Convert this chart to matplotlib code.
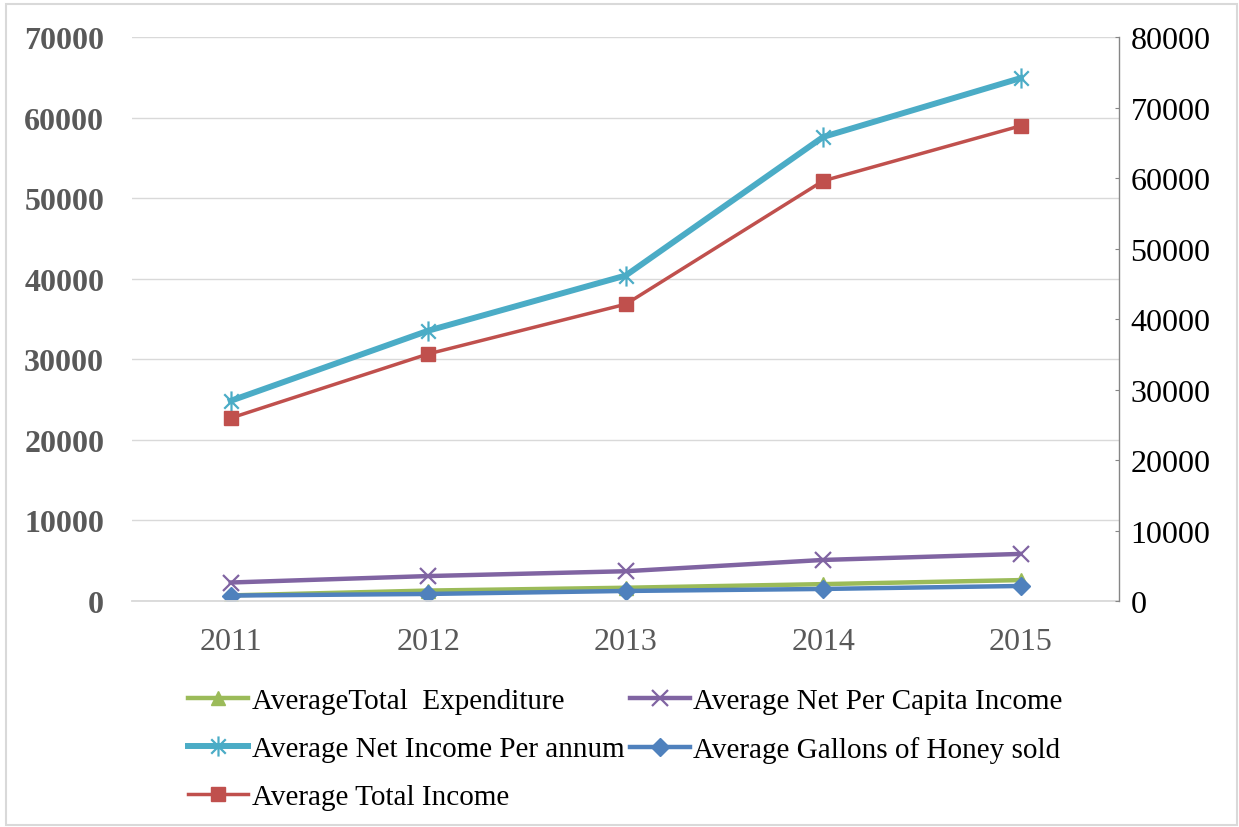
import numpy as np
import matplotlib
matplotlib.use("Agg")
import matplotlib.pyplot as plt
from matplotlib.path import Path
from matplotlib.patches import Rectangle

plt.rcParams["font.family"] = ["Liberation Serif", "DejaVu Serif"]

years = ["2011", "2012", "2013", "2014", "2015"]

# primary axis series
total_expenditure = [700, 1300, 1650, 2100, 2600]
net_per_capita = [2300, 3100, 3700, 5100, 5850]
net_income_annum = [24850, 33550, 40400, 57600, 64900]
gallons_sold = [680, 880, 1250, 1500, 1870]

# secondary axis series
total_income = [25950, 35050, 42100, 59600, 67400]

left_ticks = [0, 10000, 20000, 30000, 40000, 50000, 60000, 70000]
right_ticks = [0, 10000, 20000, 30000, 40000, 50000, 60000, 70000, 80000]

GREEN = "#9BBB59"
PURPLE = "#8064A2"
CYAN = "#4BACC6"
BLUE = "#4F81BD"
RED = "#C0504D"
GRID = "#D9D9D9"
LABEL_GRAY = "#595959"

# asterisk marker: vertical stroke plus an x
star_path = Path(
    [(0, -1), (0, 1), (-0.72, -0.72), (0.72, 0.72), (-0.72, 0.72), (0.72, -0.72)],
    [Path.MOVETO, Path.LINETO, Path.MOVETO, Path.LINETO, Path.MOVETO, Path.LINETO],
)

fig = plt.figure(figsize=(12.39, 8.28), dpi=100)
ax = fig.add_axes([0.1065, 0.2729, 0.797, 0.6812])
ax2 = ax.twinx()

x = np.arange(len(years))

h_exp, = ax.plot(x, total_expenditure, color=GREEN, lw=3.2, marker="^", ms=10,
                 label="AverageTotal  Expenditure")
h_cap, = ax.plot(x, net_per_capita, color=PURPLE, lw=3.2, marker="x", ms=11, mew=1.6,
                 label="Average Net Per Capita Income")
h_net, = ax.plot(x, net_income_annum, color=CYAN, lw=4.3, marker=star_path, ms=14.5,
                 mew=1.6, mec=CYAN, label="Average Net Income Per annum")
h_gal, = ax.plot(x, gallons_sold, color=BLUE, lw=3.2, marker="D", ms=9.5,
                 label="Average Gallons of Honey sold")
h_tot, = ax2.plot(x, total_income, color=RED, lw=2.5, marker="s", ms=10.5,
                  label="Average Total Income")

ax.set_xlim(-0.5, len(years) - 0.5)
ax.set_ylim(0, 70000)
ax2.set_ylim(0, 80000)

ax.set_xticks(x)
ax.set_xticklabels(years)
ax.set_yticks(left_ticks)
ax.set_yticklabels([str(v) for v in left_ticks])
ax2.set_yticks(right_ticks)
ax2.set_yticklabels([str(v) for v in right_ticks])

ax.grid(axis="y", color=GRID, lw=1.0)
ax.set_axisbelow(True)

for side in ["left", "top", "right"]:
    ax.spines[side].set_visible(False)
ax.spines["bottom"].set_color(GRID)
ax.spines["bottom"].set_linewidth(1.3)

for side in ["left", "top", "bottom"]:
    ax2.spines[side].set_visible(False)
ax2.spines["right"].set_color("#868686")
ax2.spines["right"].set_linewidth(1.0)

ax.tick_params(axis="y", length=0, pad=20, labelsize=23, labelcolor=LABEL_GRAY)
for lbl in ax.get_yticklabels():
    lbl.set_fontweight("bold")
ax.tick_params(axis="x", length=0, pad=19, labelsize=23, labelcolor=LABEL_GRAY)
ax2.tick_params(axis="y", direction="in", length=3, color="#868686", pad=8,
                labelsize=23, labelcolor="black")

fig.legend(
    handles=[h_exp, h_net, h_tot, h_cap, h_gal],
    loc="upper left",
    bbox_to_anchor=(0.152, 0.168),
    ncol=2,
    frameon=False,
    fontsize=21,
    handlelength=2.05,
    handletextpad=0.12,
    columnspacing=0.2,
    labelspacing=0.74,
    borderpad=0,
    borderaxespad=0,
)

# thin chart border
fig.patches.append(Rectangle((0.005, 0.003), 0.993, 0.991, transform=fig.transFigure,
                             fill=False, edgecolor=GRID, lw=1.5))

fig.savefig("out.png", dpi=100)
